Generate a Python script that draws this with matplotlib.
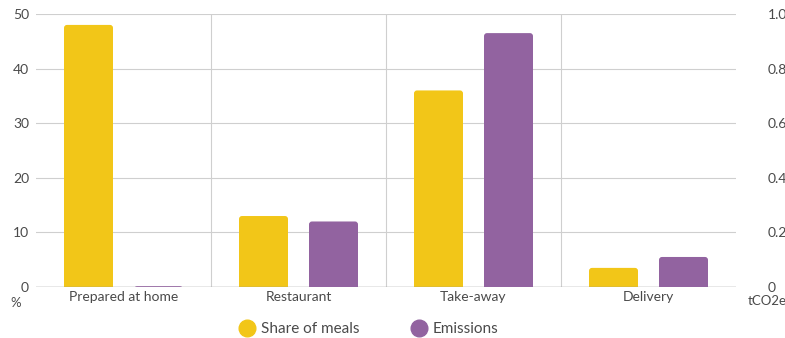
import matplotlib
matplotlib.use("Agg")
import matplotlib.pyplot as plt
from matplotlib.lines import Line2D
from matplotlib.patches import FancyBboxPatch
import numpy as np

plt.rcParams['font.family'] = ['Lato', 'DejaVu Sans']

categories = ["Prepared at home", "Restaurant", "Take-away", "Delivery"]
share_of_meals = [48, 13, 36, 3.5]          # %
emissions = [0.003, 0.24, 0.93, 0.11]       # tCO2e

yellow = "#F2C618"
purple = "#9263A0"
text_col = "#4a4a4a"
grid_col = "#cfcfcf"

W, H = 785, 338
ax_l, ax_b, ax_w, ax_h = 36, 51, 700, 273

fig = plt.figure(figsize=(W / 100, H / 100), dpi=100)
ax = fig.add_axes([ax_l / W, ax_b / H, ax_w / W, ax_h / H])
ax2 = ax.twinx()

x = np.arange(len(categories))
w = 0.28
off = 0.2

ax.set_xlim(-0.5, len(categories) - 0.5)
ax.set_ylim(0, 50)
ax2.set_ylim(0, 1.0)

bars1 = ax.bar(x - off, share_of_meals, width=w, color=yellow, zorder=3)
bars2 = ax2.bar(x + off, emissions, width=w, color=purple, zorder=3)


def round_tops(axis, bars, radius_px=3):
    """Swap plain bars for ones with softly rounded top corners."""
    x0, x1 = axis.get_xlim()
    y0, y1 = axis.get_ylim()
    xpp = (x1 - x0) / ax_w
    ypp = (y1 - y0) / ax_h
    r = radius_px * xpp
    aspect = ypp / xpp
    ext = radius_px * ypp
    for b in bars:
        bx, by = b.get_x(), b.get_y()
        bw, bh = b.get_width(), b.get_height()
        p = FancyBboxPatch((bx, by - ext), bw, bh + ext,
                           boxstyle=f"round,pad=0,rounding_size={r}",
                           mutation_aspect=aspect,
                           facecolor=b.get_facecolor(), edgecolor='none',
                           zorder=3)
        b.remove()
        axis.add_patch(p)


round_tops(ax, bars1)
round_tops(ax2, bars2)

ax.set_yticks([0, 10, 20, 30, 40, 50])
ax2.set_yticks([0, 0.2, 0.4, 0.6, 0.8, 1.0])
ax2.set_yticklabels(["0", "0.2", "0.4", "0.6", "0.8", "1.0"])

ax.yaxis.grid(True, color=grid_col, linewidth=0.8, zorder=0)
ax.set_axisbelow(True)
for bnd in np.arange(0.5, len(categories) - 0.5, 1):
    ax.axvline(bnd, color=grid_col, linewidth=0.8, zorder=0)
ax.axhline(0, color="#9a9a9a", linewidth=1.0, zorder=4)

for a in (ax, ax2):
    for s in a.spines.values():
        s.set_visible(False)
    a.tick_params(length=0, labelsize=10, labelcolor=text_col)
ax.tick_params(axis='y', pad=5)
ax2.tick_params(axis='y', pad=23)

ax.set_xticks(x)
ax.set_xticklabels(categories, fontsize=10, color=text_col)
ax.tick_params(axis='x', pad=3)

fig.text(10 / W, 1 - 303 / H, "%", fontsize=9.5, color=text_col, ha='left', va='center')
fig.text(748 / W, 1 - 301 / H, "tCO2e", fontsize=9.5, color=text_col, ha='left', va='center')

handles = [
    Line2D([], [], marker='o', linestyle='', markersize=12, color=yellow, label="Share of meals"),
    Line2D([], [], marker='o', linestyle='', markersize=12, color=purple, label="Emissions"),
]
leg = fig.legend(handles=handles, loc='center', bbox_to_anchor=(368 / W, 1 - 329 / H),
                 ncol=2, frameon=False, fontsize=11, handletextpad=0.3,
                 columnspacing=3.3, handlelength=1.2)
for t in leg.get_texts():
    t.set_color(text_col)

fig.savefig("out.png", dpi=100)
